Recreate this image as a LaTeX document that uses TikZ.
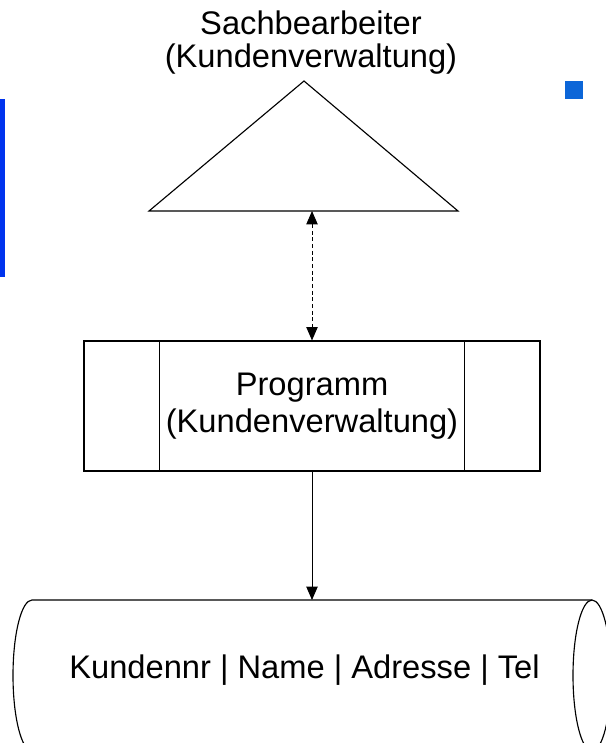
\documentclass[tikz,border=0pt]{standalone}
\usepackage{fontspec}
\setmainfont{Liberation Sans}
\usepackage{tikz}
\usetikzlibrary{positioning,arrows.meta,calc}
\definecolor{balkenblau}{RGB}{0,51,238}
\definecolor{punktblau}{RGB}{12,102,216}
\tikzset{
  linie/.style={line width=0.85pt},
  pfeilspitze/.style={-{Triangle[length=10pt,width=8.5pt]}},
  txt/.style={font=\fontsize{24.5}{27.75}\selectfont, inner sep=0pt, align=center}
}

\begin{document}
\begin{tikzpicture}[x=0.75pt,y=0.75pt]
    \useasboundingbox (0,0) rectangle (606,-743);
    \clip (0,0) rectangle (606,-743);
    % Markierungen am Rand
    \fill[balkenblau] (0,-99) rectangle (5,-277);
    \fill[punktblau] (565,-81) rectangle (583,-99);
    % Sachbearbeiter als Dreieck
    \node[txt, font=\fontsize{24.5}{24.75}\selectfont] (sb) at (311,-43) {Sachbearbeiter\\(Kundenverwaltung)};
    \draw[linie] (149,-211) -- (304,-81) -- (458,-211) -- cycle;
    \coordinate (sbbasis) at (312,-211);
    % Programm mit Seitenfeldern
    \node[txt, draw, linie, minimum width=456*0.75pt, minimum height=130*0.75pt] (prog) at (312,-406) {Programm\\(Kundenverwaltung)};
    \draw[line width=0.7pt] ($(prog.north west)+(76,0)$) -- ($(prog.south west)+(76,0)$);
    \draw[line width=0.7pt] ($(prog.north east)+(-76,0)$) -- ($(prog.south east)+(-76,0)$);
    % Datei als Zylinder
    \coordinate (dboben) at (312,-600);
    \draw[linie] (592,-600) -- (32,-600) arc[start angle=90, end angle=270, x radius=19, y radius=75.5] -- (592,-751);
    \draw[linie] (592,-675.5) ellipse [x radius=19, y radius=75.5];
    \node[txt, anchor=base] (db) at (304.5,-678) {Kundennr | Name | Adresse | Tel};
    % Verbindungen
    \draw[line width=0.7pt, densely dashed, {Triangle[length=10pt,width=8.5pt]}-{Triangle[length=10pt,width=8.5pt]}] (sbbasis) -- (prog.north);
    \draw[line width=0.7pt, pfeilspitze] (prog.south) -- (dboben);
\end{tikzpicture}
\end{document}
